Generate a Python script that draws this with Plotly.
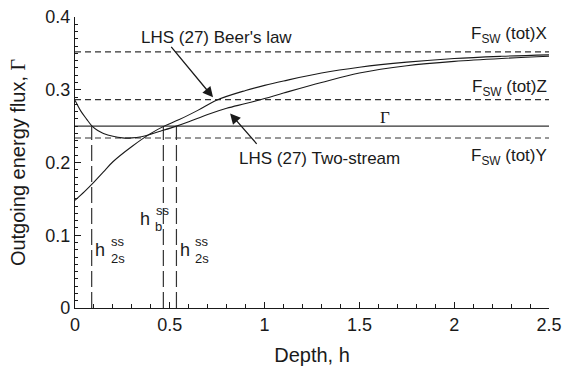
import plotly.graph_objects as go

# Data
h_beer = [0, 0.05, 0.1, 0.15, 0.2, 0.3, 0.4, 0.47, 0.55, 0.65, 0.75, 0.9, 1.0, 1.1, 1.3, 1.5, 1.75, 2.0, 2.25, 2.5]
v_beer = [0.148, 0.160, 0.173, 0.187, 0.201, 0.222, 0.240, 0.250, 0.259, 0.272, 0.286, 0.299, 0.306, 0.312, 0.323, 0.331, 0.338, 0.343, 0.346, 0.348]

h_two = [0, 0.03, 0.06, 0.09, 0.12, 0.15, 0.2, 0.25, 0.3, 0.35, 0.4, 0.45, 0.535, 0.6, 0.7, 0.8, 0.9, 1.0, 1.1, 1.3, 1.5, 1.75, 2.0, 2.25, 2.5]
v_two = [0.2855, 0.271, 0.260, 0.250, 0.244, 0.240, 0.236, 0.2338, 0.2338, 0.2355, 0.239, 0.243, 0.250, 0.256, 0.266, 0.2745, 0.281, 0.288, 0.2955, 0.310, 0.323, 0.333, 0.339, 0.343, 0.346]

levels_dashed = {"X": 0.352, "Z": 0.2865, "Y": 0.2337}
gamma_level = 0.25
h_ss = [0.088, 0.466, 0.535]

x_ticks = [0, 0.5, 1, 1.5, 2, 2.5]
x_ticklabels = ["0", "0.5", "1", "1.5", "2", "2.5"]
y_ticks = [0, 0.1, 0.2, 0.3, 0.4]
y_ticklabels = ["0", "0.1", "0.2", "0.3", "0.4"]

SANS = "Liberation Sans, Arial, sans-serif"
SERIF = "Liberation Serif, Times New Roman, serif"
INK = "#1a1a1a"

fig = go.Figure()

# horizontal dashed levels
for k, v in levels_dashed.items():
    fig.add_trace(go.Scatter(x=[0, 2.5], y=[v, v], mode="lines",
                             line=dict(color="#333333", width=1.2, dash="6px,4px"),
                             hoverinfo="skip", showlegend=False))
# Gamma level
fig.add_trace(go.Scatter(x=[0, 2.5], y=[gamma_level, gamma_level], mode="lines",
                         line=dict(color="#333333", width=1.2),
                         hoverinfo="skip", showlegend=False))
# vertical long-dashed lines
for hv in h_ss:
    fig.add_trace(go.Scatter(x=[hv, hv], y=[0, gamma_level], mode="lines",
                             line=dict(color="#333333", width=1.2, dash="16px,5px"),
                             hoverinfo="skip", showlegend=False))
# curves
fig.add_trace(go.Scatter(x=h_beer, y=v_beer, mode="lines", line_shape="spline",
                         line=dict(color=INK, width=1.1), showlegend=False))
fig.add_trace(go.Scatter(x=h_two, y=v_two, mode="lines", line_shape="spline",
                         line=dict(color=INK, width=1.1), showlegend=False))

ann = []
def txt(x, y, t, size=17, xanchor="center", family=SANS):
    ann.append(dict(x=x, y=y, xref="x", yref="y", text=t, showarrow=False,
                    xanchor=xanchor, yanchor="middle",
                    font=dict(family=family, size=size, color=INK)))

txt(0.747, 0.3725, "LHS (27) Beer's law")
txt(1.287, 0.2057, "LHS (27) Two-stream")
txt(2.5, 0.375, "F<sub>SW</sub> (tot)X", xanchor="right")
txt(2.5, 0.302, "F<sub>SW</sub> (tot)Z", xanchor="right")
txt(2.5, 0.207, "F<sub>SW</sub> (tot)Y", xanchor="right")
txt(1.635, 0.262, "Γ", size=17, family=SERIF)

# h labels with stacked super/subscripts
txt(0.132, 0.0793, "h", size=18)
txt(0.225, 0.091, "ss", size=13)
txt(0.225, 0.0687, "2s", size=13)
txt(0.58, 0.0793, "h", size=18)
txt(0.668, 0.091, "ss", size=13)
txt(0.668, 0.0687, "2s", size=13)
txt(0.369, 0.1229, "h", size=18)
txt(0.466, 0.1346, "ss", size=13)
txt(0.441, 0.1117, "b", size=13)

# arrows
ann.append(dict(x=0.728, y=0.2896, ax=0.501, ay=0.361, xref="x", yref="y",
                axref="x", ayref="y", text="", showarrow=True,
                arrowhead=2, arrowsize=1.6, arrowwidth=1.3, arrowcolor=INK))
ann.append(dict(x=0.818, y=0.2675, ax=0.965, ay=0.2236, xref="x", yref="y",
                axref="x", ayref="y", text="", showarrow=True,
                arrowhead=2, arrowsize=1.6, arrowwidth=1.3, arrowcolor=INK))

fig.update_layout(
    width=562, height=372,
    margin=dict(l=75, r=13, t=17, b=64, autoexpand=False),
    paper_bgcolor="white", plot_bgcolor="white",
    font=dict(family=SANS, color=INK, size=18),
    annotations=ann,
    showlegend=False,
)
fig.update_xaxes(range=[0, 2.5], showline=True, linecolor=INK, linewidth=1.2,
                 automargin=False,
                 showgrid=False, zeroline=False, ticks="inside", ticklen=6,
                 tickcolor=INK, tickvals=x_ticks, ticktext=x_ticklabels,
                 tickfont=dict(size=18, family=SANS),
                 minor=dict(ticks="inside", dtick=0.1, ticklen=4, tickcolor=INK, showgrid=False),
                 title=dict(text="Depth, h", font=dict(size=20, family=SANS), standoff=14))
fig.update_yaxes(range=[0, 0.4], showline=True, linecolor=INK, linewidth=1.2,
                 automargin=False,
                 showgrid=False, zeroline=False, ticks="inside", ticklen=6,
                 tickcolor=INK, tickvals=y_ticks, ticktext=y_ticklabels,
                 tickfont=dict(size=18, family=SANS),
                 minor=dict(ticks="inside", dtick=0.01, ticklen=3, tickcolor=INK, showgrid=False),
                 title=dict(text="Outgoing energy flux, <span style='font-family:Liberation Serif'>Γ</span>",
                            font=dict(size=20, family=SANS), standoff=14))

fig.write_html("out.html", config={"displayModeBar": False},
               post_script="document.body.style.margin='0';document.body.style.overflow='hidden';")
